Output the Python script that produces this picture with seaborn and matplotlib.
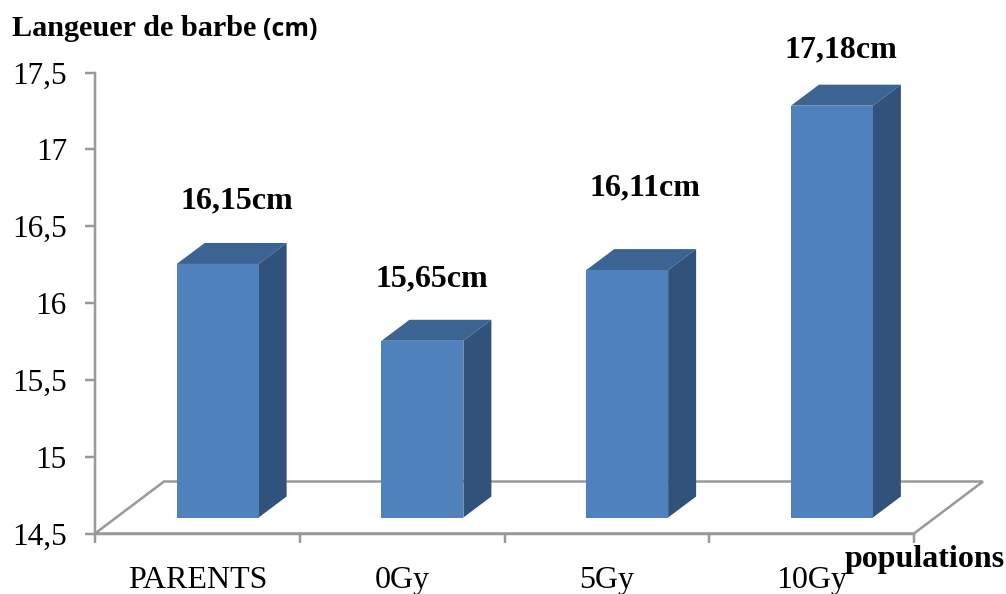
import matplotlib
matplotlib.use("Agg")
import matplotlib.pyplot as plt
from matplotlib.patches import Polygon
from matplotlib.transforms import ScaledTranslation
import seaborn as sns

populations = ["PARENTS", "0Gy", "5Gy", "10Gy"]
lengths = [16.15, 15.65, 16.11, 17.18]
value_labels = ["16,15cm", "15,65cm", "16,11cm", "17,18cm"]
y_ticks = [14.5, 15, 15.5, 16, 16.5, 17, 17.5]
y_tick_labels = ["14,5", "15", "15,5", "16", "16,5", "17", "17,5"]
label_lift_px = [56, 54, 75, 48]
label_slide_px = [19, 9, 18, 9]

FRONT = "#4F81BD"
TOP = "#3B6493"
SIDE = "#31527B"
AXIS = "#999999"
SERIF = "Liberation Serif"
PX = 72 / 100  # points per pixel at the figure's dpi

sns.set_style("white")
plt.rcParams["font.family"] = [SERIF, "DejaVu Sans"]

W, H = 1006, 594
fig = plt.figure(figsize=(W / 100, H / 100), dpi=100)
ax_w, ax_h = 819, 461
ax = fig.add_axes([95 / W, 1 - 533.5 / H, ax_w / W, ax_h / H])

sns.barplot(x=populations, y=lengths, color=FRONT, saturation=1, width=0.4, ax=ax)
ax.set_xlim(-0.5, 3.5)
ax.set_ylim(14.5, 17.5)
ax.set_xlabel("")
ax.set_ylabel("")


def px_offset(dx, dy):
    return ax.transData + ScaledTranslation(dx / 100, dy / 100, fig.dpi_scale_trans)


# Perspective floor behind the bars
floor_dx, floor_dy = 69 / ax_w, 52 / ax_h
ax.add_patch(Polygon(
    [(0, 0), (floor_dx, floor_dy), (1 + floor_dx, floor_dy), (1, 0)],
    closed=True, fill=False, edgecolor=AXIS, linewidth=2.5 * PX,
    transform=ax.transAxes, clip_on=False, zorder=1,
))

# Each bar stands on the floor, shifted forward, with a top and side face
shift = px_offset(20.3, 16)
data_per_px_x = 4 / ax_w
data_per_px_y = 3 / ax_h
depth_x = 28 * data_per_px_x
depth_y = 21 * data_per_px_y
base = y_ticks[0]

for bar, value in zip(ax.patches, lengths):
    bar.set_y(base)
    bar.set_height(value - base)
    bar.set_transform(shift)
    bar.set_clip_on(False)
    bar.set_linewidth(0)
    bar.set_zorder(4)
    x0, x1 = bar.get_x(), bar.get_x() + bar.get_width()
    ax.add_patch(Polygon(
        [(x0, value), (x1, value), (x1 + depth_x, value + depth_y), (x0 + depth_x, value + depth_y)],
        closed=True, facecolor=TOP, edgecolor="none", transform=shift, clip_on=False, zorder=3,
    ))
    ax.add_patch(Polygon(
        [(x1, base), (x1, value), (x1 + depth_x, value + depth_y), (x1 + depth_x, base + depth_y)],
        closed=True, facecolor=SIDE, edgecolor="none", transform=shift, clip_on=False, zorder=3,
    ))

# Value labels above the bars
for bar, value, text, lift, slide in zip(ax.patches, lengths, value_labels, label_lift_px, label_slide_px):
    cx = bar.get_x() + bar.get_width() / 2
    ax.annotate(text, (cx, value), xycoords=shift, xytext=(slide * PX, lift * PX),
                textcoords="offset points", ha="center", va="baseline",
                fontsize=23, fontweight="bold", color="black", family=SERIF,
                annotation_clip=False, zorder=6)

# Axes: grey spines, ticks between categories, names centred under them
sns.despine(ax=ax)
for side in ("left", "bottom"):
    ax.spines[side].set_color(AXIS)
    ax.spines[side].set_linewidth(2.5 * PX)
ax.set_yticks(y_ticks, labels=y_tick_labels)
ax.tick_params(axis="y", left=True, color=AXIS, length=10 * PX, width=2.5 * PX,
               pad=18 * PX, labelsize=22.5, labelcolor="black")
ax.set_xticks([-0.5, 0.5, 1.5, 2.5, 3.5], labels=[])
ax.set_xticks(range(4), labels=populations, minor=True)
ax.tick_params(axis="x", which="major", bottom=True, color=AXIS, length=9 * PX, width=2.5 * PX)
ax.tick_params(axis="x", which="minor", bottom=False, length=0, pad=32.5 * PX,
               labelsize=23, labelcolor="black")

# Axis captions
fig.text(12 / W, 1 - 36 / H, "Langeuer de barbe", fontsize=21.8, fontweight="bold",
         family=SERIF, va="baseline", ha="left", color="black")
fig.text(263 / W, 1 - 36 / H, "(cm)", fontsize=18, fontweight="bold",
         family="Open Sans", va="baseline", ha="left", color="black")
fig.text(845 / W, 1 - 567 / H, "populations", fontsize=23, fontweight="bold",
         family=SERIF, va="baseline", ha="left", color="black", zorder=10)

fig.savefig("out.png", dpi=100)
